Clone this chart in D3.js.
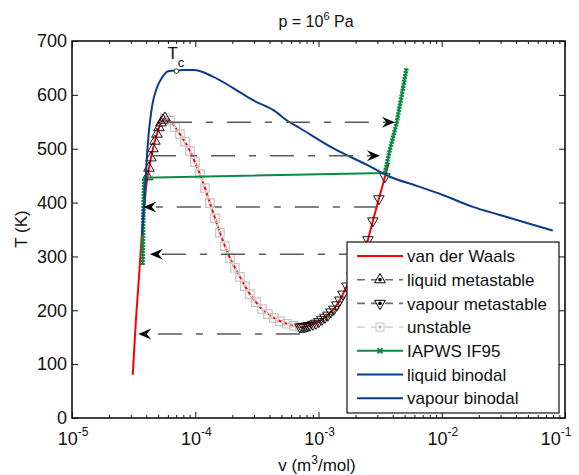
<!DOCTYPE html>
<html>
<head>
<meta charset="utf-8">
<script src="https://d3js.org/d3.v7.min.js"></script>
<style>
  body { margin: 0; background: #fff; }
  text { font-family: "Liberation Sans", Arial, sans-serif; fill: #111; }
</style>
</head>
<body>
<svg id="chart" width="579" height="475"></svg>
<script>
// values: v in m^3/mol, T in K
var vdwLiqV = [3.11e-5, 3.30e-5, 3.49e-5, 3.66e-5, 3.84e-5, 3.98e-5];
var vdwLiqT = [80, 182, 260, 331, 386, 427];
var vdwEndV = [3.72e-3];
var vdwEndT = [474];

var liqMetaV = [4.10e-5, 4.21e-5, 4.37e-5, 4.54e-5, 4.71e-5, 4.89e-5, 5.08e-5, 5.27e-5, 5.47e-5, 5.68e-5];
var liqMetaT = [448, 464, 483, 500, 514, 527, 539, 548, 553, 557];

var unstableV = [5.68e-5, 6.23e-5, 6.85e-5, 7.52e-5, 8.25e-5, 9.06e-5, 9.94e-5, 1.092e-4, 1.199e-4, 1.316e-4,
                 1.445e-4, 1.586e-4, 1.741e-4, 1.911e-4, 2.099e-4, 2.304e-4, 2.530e-4, 2.777e-4, 3.107e-4,
                 3.475e-4, 3.887e-4, 4.347e-4, 4.863e-4, 5.54e-4, 6.32e-4, 7.07e-4];
var unstableT = [557, 552, 540, 527, 513, 496, 475, 453, 427, 399, 371, 344, 319, 297, 279, 262, 245, 230, 215,
                 202, 193, 186, 180, 175, 171, 169];

var vapMetaV = [7.07e-4, 7.33e-4, 7.62e-4, 7.91e-4, 8.20e-4, 8.51e-4, 9.01e-4, 9.53e-4, 1.007e-3, 1.066e-3,
                1.127e-3, 1.192e-3, 1.261e-3, 1.333e-3, 1.410e-3, 1.49e-3, 1.578e-3, 1.70e-3, 1.866e-3,
                2.05e-3, 2.25e-3, 2.52e-3, 2.76e-3, 3.09e-3, 3.46e-3];
var vapMetaT = [169, 169, 169, 170, 171, 172, 174, 176, 179, 183, 187, 191, 197, 202, 210, 219, 230, 245, 264,
                286, 306, 331, 366, 407, 448];

var iapwsLiqV = [3.74e-5, 3.75e-5, 3.77e-5, 3.78e-5, 3.80e-5, 3.83e-5, 3.86e-5];
var iapwsLiqT = [284, 305, 330, 355, 386, 415, 446];
var iapwsVapV = [3.46e-3, 3.79e-3, 4.30e-3, 4.72e-3, 5.18e-3];
var iapwsVapT = [455, 498, 547, 598, 649];

var liqBinV = [3.70e-5, 3.85e-5, 3.96e-5, 4.03e-5, 4.16e-5, 4.29e-5, 4.48e-5, 4.86e-5, 5.34e-5, 6.04e-5, 6.97e-5];
var liqBinT = [340, 400, 442, 476, 520, 550, 581, 612, 631, 644, 645];
var vapBinV = [6.97e-5, 7.94e-5, 9.75e-5, 1.39e-4, 2.02e-4, 2.94e-4, 4.27e-4, 5.75e-4, 7.07e-4, 1.31e-3,
               2.47e-3, 3.79e-3, 6.28e-3, 1.02e-2, 1.79e-2, 2.96e-2, 4.90e-2, 7.96e-2];
var vapBinT = [645, 646, 646, 634, 613, 590, 572, 550, 538, 501, 470, 448, 431, 414, 392, 377, 362, 348];

var tcV = 7.04e-5, tcT = 644;

// dashed jumps
var arrowT = [549, 487, 392, 304, 156];
var arrowFromV = [6.0e-5, 4.46e-5, 3.03e-3, 2.29e-3, 7.07e-4];
var arrowToV = [4.17e-3, 3.15e-3, 3.79e-5, 4.29e-5, 3.45e-5];

var yTicks = [0, 100, 200, 300, 400, 500, 600, 700];
var xDecades = [-5, -4, -3, -2, -1];
var legendNames = ["van der Waals", "liquid metastable", "vapour metastable", "unstable",
                   "IAPWS IF95", "liquid binodal", "vapour binodal"];

var RED = "#ff0000", GREEN = "#0a8a45", BLUE = "#0a3c8c", GREY = "#6b6b6b", LGREY = "#c4c4c4";

var svg = d3.select("#chart");
var x = d3.scaleLog().domain([1e-5, 1e-1]).range([72, 565]);
var y = d3.scaleLinear().domain([0, 700]).range([418, 41]);

function pts(vs, ts) { return vs.map(function(v, i) { return [v, ts[i]]; }); }
var line = d3.line().x(function(d) { return x(d[0]); }).y(function(d) { return y(d[1]); });
var smooth = d3.line().x(function(d) { return x(d[0]); }).y(function(d) { return y(d[1]); })
  .curve(d3.curveMonotoneX);

var plot = svg.append("g");

// van der Waals isobar
var vdw = pts(vdwLiqV, vdwLiqT).concat(pts(liqMetaV, liqMetaT), pts(unstableV, unstableT).slice(1),
          pts(vapMetaV, vapMetaT).slice(1), pts(vdwEndV, vdwEndT));
plot.append("path").attr("d", line(vdw)).attr("fill", "none")
  .attr("stroke", RED).attr("stroke-width", 2);

// unstable squares + light dashed line
plot.append("g").selectAll("path").data(pts(unstableV, unstableT)).enter().append("path")
  .attr("d", d3.symbol().type(d3.symbolSquare).size(72))
  .attr("transform", function(d) { return "translate(" + x(d[0]) + "," + y(d[1]) + ")"; })
  .attr("fill", "none").attr("stroke", LGREY).attr("stroke-width", 1.2);
plot.append("path").attr("d", line(pts(unstableV, unstableT))).attr("fill", "none")
  .attr("stroke", "#e6e6e6").attr("stroke-width", 1.6).attr("stroke-dasharray", "3,3");

// metastable triangles
var tri = d3.symbol().type(d3.symbolTriangle).size(48);
plot.append("g").selectAll("path").data(pts(liqMetaV, liqMetaT)).enter().append("path")
  .attr("d", tri)
  .attr("transform", function(d) { return "translate(" + x(d[0]) + "," + y(d[1]) + ")"; })
  .attr("fill", "none").attr("stroke", "#000").attr("stroke-width", 0.9);
plot.append("g").selectAll("path").data(pts(vapMetaV, vapMetaT)).enter().append("path")
  .attr("d", tri)
  .attr("transform", function(d) { return "translate(" + x(d[0]) + "," + y(d[1]) + ") rotate(180)"; })
  .attr("fill", "none").attr("stroke", "#000").attr("stroke-width", 0.9);

// dashed arrows
function arrowHead(g, px, py, dir) {
  g.append("path")
    .attr("d", "M0,0 L-13,-5.5 L-8.5,0 L-13,5.5 Z")
    .attr("transform", "translate(" + px + "," + py + ") scale(" + dir + ",1)")
    .attr("fill", "#000");
}
var arrows = svg.append("g");
arrowT.forEach(function(t, i) {
  var x0 = x(arrowFromV[i]), x1 = x(arrowToV[i]), yy = y(t);
  var dir = x1 > x0 ? 1 : -1;
  arrows.append("line").attr("x1", x0).attr("x2", x1 - dir * 9).attr("y1", yy).attr("y2", yy)
    .attr("stroke", "#5a5a5a").attr("stroke-width", 1.5).attr("stroke-dasharray", "24,14,7,14");
  arrowHead(arrows, x1, yy, dir);
});

// IAPWS IF95
var iapws = pts(iapwsLiqV, iapwsLiqT).concat(pts(iapwsVapV, iapwsVapT));
plot.append("path").attr("d", line(iapws)).attr("fill", "none")
  .attr("stroke", GREEN).attr("stroke-width", 2);
[pts(iapwsLiqV, iapwsLiqT), pts(iapwsVapV, iapwsVapT)].forEach(function(seg) {
  plot.append("path").attr("d", line(seg)).attr("fill", "none")
    .attr("stroke", GREEN).attr("stroke-width", 4.5).attr("stroke-dasharray", "2,1");
});

// binodals
plot.append("path").attr("d", smooth(pts(liqBinV, liqBinT))).attr("fill", "none")
  .attr("stroke", BLUE).attr("stroke-width", 2);
plot.append("path").attr("d", smooth(pts(vapBinV, vapBinT))).attr("fill", "none")
  .attr("stroke", BLUE).attr("stroke-width", 2);

// critical point
plot.append("circle").attr("cx", x(tcV)).attr("cy", y(tcT)).attr("r", 2.3)
  .attr("fill", "#fff").attr("stroke", "#333").attr("stroke-width", 1);
var tcLab = svg.append("text").attr("x", x(tcV) - 9).attr("y", y(tcT) - 12).style("font-size", "17px");
tcLab.append("tspan").text("T");
tcLab.append("tspan").attr("dy", 8).style("font-size", "13px").text("c");

// axes: ticks inward on all four sides
var minor = [];
xDecades.slice(0, -1).forEach(function(e) { for (var m = 2; m < 10; m++) minor.push(m * Math.pow(10, e)); });
var major = xDecades.map(function(e) { return Math.pow(10, e); });

function styleAxis(g) {
  g.select(".domain").remove();
  g.selectAll("line").attr("stroke", "#111");
}
svg.append("g").attr("transform", "translate(0,418)")
  .call(d3.axisBottom(x).tickValues(major).tickSize(-6).tickFormat("")).call(styleAxis);
svg.append("g").attr("transform", "translate(0,418)")
  .call(d3.axisBottom(x).tickValues(minor).tickSize(-3).tickFormat("")).call(styleAxis);
svg.append("g").attr("transform", "translate(0,41)")
  .call(d3.axisTop(x).tickValues(major).tickSize(-6).tickFormat("")).call(styleAxis);
svg.append("g").attr("transform", "translate(0,41)")
  .call(d3.axisTop(x).tickValues(minor).tickSize(-3).tickFormat("")).call(styleAxis);
svg.append("g").attr("transform", "translate(72,0)")
  .call(d3.axisLeft(y).tickValues(yTicks).tickSize(-6).tickPadding(5).tickFormat(d3.format("d")))
  .call(styleAxis)
  .selectAll("text").style("font-size", "18px").style("font-family", "'Liberation Sans', Arial, sans-serif")
  .attr("fill", "#111");
svg.append("g").attr("transform", "translate(565,0)")
  .call(d3.axisRight(y).tickValues(yTicks).tickSize(-6).tickFormat("")).call(styleAxis);

svg.append("rect").attr("x", 72).attr("y", 41).attr("width", 565 - 72).attr("height", 418 - 41)
  .attr("fill", "none").attr("stroke", "#111").attr("stroke-width", 1.6);

// x tick labels 10^e
xDecades.forEach(function(e, i) {
  var cx = Math.min(x(Math.pow(10, e)) + 1, 556);
  var t = svg.append("text").attr("x", cx).attr("y", 445)
    .attr("text-anchor", "middle").style("font-size", "18px");
  t.append("tspan").text("10");
  t.append("tspan").attr("dy", -9).style("font-size", "12px").text(String(e));
});

// title and axis labels
var title = svg.append("text").attr("x", 316).attr("y", 27).attr("text-anchor", "middle").style("font-size", "16px");
title.append("tspan").text("p = 10");
title.append("tspan").attr("dy", -7).style("font-size", "11px").text("6");
title.append("tspan").attr("dy", 7).text(" Pa");

var xl = svg.append("text").attr("x", 317).attr("y", 471).attr("text-anchor", "middle").style("font-size", "17px");
xl.append("tspan").text("v (m");
xl.append("tspan").attr("dy", -7).style("font-size", "12px").text("3");
xl.append("tspan").attr("dy", 7).text("/mol)");

svg.append("text").attr("transform", "translate(27,229) rotate(-90)").attr("text-anchor", "middle")
  .style("font-size", "17px").text("T (K)");

// legend
var lg = svg.append("g");
lg.append("rect").attr("x", 347).attr("y", 242).attr("width", 212).attr("height", 171)
  .attr("fill", "#fff").attr("stroke", "#111").attr("stroke-width", 1.2);
legendNames.forEach(function(name, i) {
  var cy = 256 + i * 23.7, x0 = 357, x1 = 403, cx = 380;
  var row = lg.append("g");
  if (i === 0) {
    row.append("line").attr("x1", x0).attr("x2", x1).attr("y1", cy).attr("y2", cy).attr("stroke", RED).attr("stroke-width", 2);
  } else if (i === 1 || i === 2) {
    row.append("line").attr("x1", x0).attr("x2", x1).attr("y1", cy).attr("y2", cy)
      .attr("stroke", GREY).attr("stroke-width", 1.6).attr("stroke-dasharray", "8,6");
    row.append("path").attr("d", d3.symbol().type(d3.symbolTriangle).size(50))
      .attr("transform", "translate(" + cx + "," + cy + ")" + (i === 2 ? " rotate(180)" : ""))
      .attr("fill", "#fff").attr("stroke", "#000").attr("stroke-width", 1);
    row.append("circle").attr("cx", cx).attr("cy", cy).attr("r", 1.8).attr("fill", "#000");
  } else if (i === 3) {
    row.append("line").attr("x1", x0).attr("x2", x1).attr("y1", cy).attr("y2", cy)
      .attr("stroke", "#d8d8d8").attr("stroke-width", 1.6).attr("stroke-dasharray", "8,6");
    row.append("rect").attr("x", cx - 4).attr("y", cy - 4).attr("width", 8).attr("height", 8)
      .attr("fill", "#fff").attr("stroke", LGREY).attr("stroke-width", 1);
    row.append("circle").attr("cx", cx).attr("cy", cy).attr("r", 1.5).attr("fill", "#aaa");
  } else if (i === 4) {
    row.append("line").attr("x1", x0).attr("x2", x1).attr("y1", cy).attr("y2", cy).attr("stroke", GREEN).attr("stroke-width", 2);
    row.append("path").attr("d", "M-2.5,-2.5L2.5,2.5M-2.5,2.5L2.5,-2.5")
      .attr("transform", "translate(" + cx + "," + cy + ")").attr("stroke", GREEN).attr("stroke-width", 2);
  } else {
    row.append("line").attr("x1", x0).attr("x2", x1).attr("y1", cy).attr("y2", cy).attr("stroke", BLUE).attr("stroke-width", 2);
  }
  row.append("text").attr("x", 407).attr("y", cy).attr("dy", "0.36em").style("font-size", "17px").text(name);
});
</script>
</body>
</html>
